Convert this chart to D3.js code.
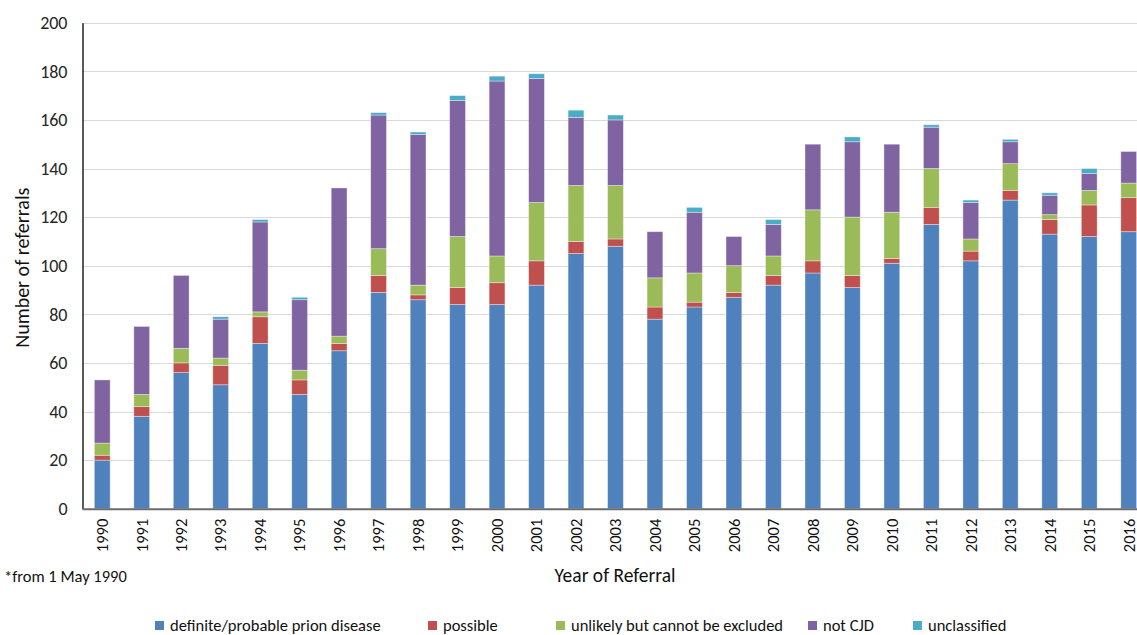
<!DOCTYPE html>
<html>
<head>
<meta charset="utf-8">
<script src="https://cdn.jsdelivr.net/npm/d3@7"></script>
<style>
  html, body { margin: 0; padding: 0; background: #fff; overflow: hidden; }
  svg { display: block; font-family: Calibri, Carlito, Lato, "Open Sans", sans-serif; }
</style>
</head>
<body>
<svg id="chart"></svg>
<script>
const years = ['1990','1991','1992','1993','1994','1995','1996','1997','1998','1999','2000','2001','2002',
  '2003','2004','2005','2006','2007','2008','2009','2010','2011','2012','2013','2014','2015','2016'];

const definite   = [20, 38, 56, 51, 68, 47, 65, 89, 86, 84, 84, 92, 105, 108, 78, 83, 87, 92, 97, 91, 101, 117, 102, 127, 113, 112, 114];
const possible   = [2, 4, 4, 8, 11, 6, 3, 7, 2, 7, 9, 10, 5, 3, 5, 2, 2, 4, 5, 5, 2, 7, 4, 4, 6, 13, 14];
const unlikely   = [5, 5, 6, 3, 2, 4, 3, 11, 4, 21, 11, 24, 23, 22, 12, 12, 11, 8, 21, 24, 19, 16, 5, 11, 2, 6, 6];
const notCJD     = [26, 28, 30, 16, 37, 29, 61, 55, 62, 56, 72, 51, 28, 27, 19, 25, 12, 13, 27, 31, 28, 17, 15, 9, 8, 7, 13];
const unclassified = [0, 0, 0, 1, 1, 1, 0, 1, 1, 2, 2, 2, 3, 2, 0, 2, 0, 2, 0, 2, 0, 1, 1, 1, 1, 2, 0];

const seriesNames = ['definite/probable prion disease', 'possible', 'unlikely but cannot be excluded', 'not CJD', 'unclassified'];
const seriesColors = ['#4f81bd', '#c0504d', '#9bbb59', '#8064a2', '#4bacc6'];
const yTicks = [0, 20, 40, 60, 80, 100, 120, 140, 160, 180, 200];

const width = 1137, height = 635;
const plotLeft = 82.5, plotTop = 22.7, plotBottom = 508.7;
const bandStep = 39.48;

const svg = d3.select('#chart')
  .attr('width', width)
  .attr('height', height);

// build rows for the stack
const keys = ['definite', 'possible', 'unlikely', 'notCJD', 'unclassified'];
const cols = [definite, possible, unlikely, notCJD, unclassified];
const rows = years.map((yr, i) => {
  const r = { year: yr };
  keys.forEach((k, j) => r[k] = cols[j][i]);
  return r;
});
const stacked = d3.stack().keys(keys)(rows);

const x = d3.scaleBand()
  .domain(years)
  .range([plotLeft, plotLeft + bandStep * years.length])
  .paddingInner(0.6)
  .paddingOuter(0.3);

const y = d3.scaleLinear()
  .domain([0, 200])
  .range([plotBottom, plotTop]);

const color = d3.scaleOrdinal().domain(keys).range(seriesColors);

// gridlines
svg.append('g')
  .selectAll('line')
  .data(yTicks.filter(t => t > 0))
  .enter()
  .append('line')
  .attr('x1', plotLeft)
  .attr('x2', width)
  .attr('y1', d => Math.round(y(d)) + 0.5)
  .attr('y2', d => Math.round(y(d)) + 0.5)
  .attr('stroke', '#d9d9d9')
  .attr('stroke-width', 1.2);

// bars
svg.append('g')
  .selectAll('g')
  .data(stacked)
  .enter()
  .append('g')
  .attr('fill', d => color(d.key))
  .selectAll('rect')
  .data(d => d)
  .enter()
  .append('rect')
  .attr('x', d => x(d.data.year))
  .attr('width', x.bandwidth())
  .attr('y', d => y(d[1]))
  .attr('height', d => Math.max(0, y(d[0]) - y(d[1])))
  .attr('stroke', '#ffffff')
  .attr('stroke-opacity', 0.45)
  .attr('stroke-width', 0.8);

// y axis
const yAxis = svg.append('g')
  .attr('transform', `translate(${plotLeft},0)`)
  .call(d3.axisLeft(y).tickValues(yTicks).tickSize(0).tickPadding(15));
yAxis.select('.domain').attr('stroke', '#000').attr('stroke-width', 1.3);
yAxis.selectAll('text')
  .attr('font-size', 18)
  .attr('fill', '#262626')
  .attr('font-family', 'Calibri, Carlito, Lato, sans-serif');

// x axis
const xAxis = svg.append('g')
  .attr('transform', `translate(0,${plotBottom})`)
  .call(d3.axisBottom(x).tickSize(0).tickPadding(0));
xAxis.select('.domain')
  .attr('d', `M${plotLeft},0.5H${width}`)
  .attr('stroke', '#6b6b6b')
  .attr('stroke-width', 2);
xAxis.selectAll('text')
  .attr('font-size', 16.5)
  .attr('fill', '#111')
  .attr('font-family', 'Calibri, Carlito, Lato, sans-serif')
  .attr('transform', 'rotate(-90)')
  .attr('text-anchor', 'end')
  .attr('x', -10)
  .attr('y', 0)
  .attr('dy', '0.35em');

// axis titles
svg.append('text')
  .attr('transform', `translate(29,${(plotTop + plotBottom) / 2 + 2}) rotate(-90)`)
  .attr('text-anchor', 'middle')
  .attr('font-size', 20)
  .attr('fill', '#111')
  .text('Number of referrals');

svg.append('text')
  .attr('x', 615)
  .attr('y', 582)
  .attr('text-anchor', 'middle')
  .attr('font-size', 19.5)
  .attr('fill', '#111')
  .text('Year of Referral');

svg.append('text')
  .attr('x', 4)
  .attr('y', 582)
  .attr('font-size', 16.5)
  .attr('fill', '#111')
  .text('*from 1 May 1990');

// legend
const legendX = [155, 428, 556, 808, 913];
const legend = svg.append('g')
  .selectAll('g')
  .data(seriesNames)
  .enter()
  .append('g')
  .attr('transform', (d, i) => `translate(${legendX[i]},625)`);

legend.append('rect')
  .attr('x', 0)
  .attr('y', -4)
  .attr('width', 9)
  .attr('height', 9)
  .attr('fill', (d, i) => seriesColors[i]);

legend.append('text')
  .attr('x', 15)
  .attr('y', 0)
  .attr('dy', '0.35em')
  .attr('font-size', 16.5)
  .attr('fill', '#111')
  .text(d => d);
</script>
</body>
</html>
